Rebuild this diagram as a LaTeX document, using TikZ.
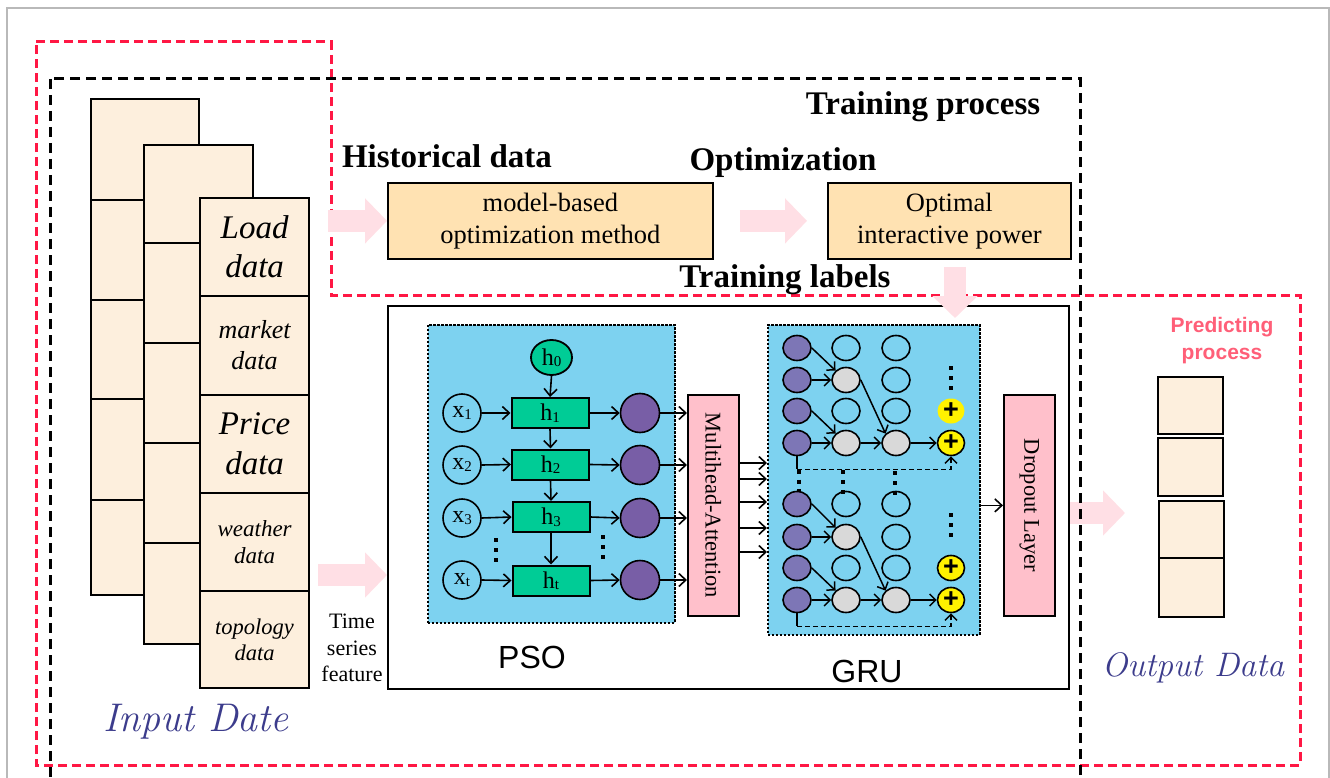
\documentclass[tikz,border=0pt]{standalone}
\usepackage{fontspec}
\usepackage{graphicx}
\newfontfamily\tms{Liberation Serif}
\newfontfamily\arl{Liberation Sans}
\usetikzlibrary{arrows.meta,shapes.geometric}
\newcommand\fsz[2]{\fontsize{#1}{#2}\selectfont}
\newcommand\hsub[2]{{\tms\fsz{24}{24}#1}{\tms\fsz{15}{15}\raisebox{-1.5pt}{#2}}}
\definecolor{peach}{RGB}{253,239,221}
\definecolor{orangebox}{RGB}{255,226,178}
\definecolor{pinkarrow}{RGB}{255,223,229}
\definecolor{skyblue}{RGB}{125,210,240}
\definecolor{greenc}{RGB}{0,204,150}
\definecolor{purpleA}{RGB}{120,94,166}
\definecolor{purpleB}{RGB}{125,118,182}
\definecolor{grayc}{RGB}{217,217,217}
\definecolor{pinkbox}{RGB}{255,192,203}
\definecolor{reddash}{RGB}{255,23,68}
\definecolor{navytext}{RGB}{60,60,140}
\definecolor{predpink}{RGB}{255,95,120}
\begin{document}
\begin{tikzpicture}[x=1pt,y=-1pt,
  cell/.style={draw, fill=peach, line width=2.2pt, anchor=north west, inner sep=0pt, align=center},
  obox/.style={draw, fill=orangebox, line width=1.8pt, anchor=north west, inner sep=0pt, align=center, font={\tms\fsz{26.5}{32}}},
  fat/.style={line width=22pt, draw=pinkarrow, -{Triangle[length=22pt,width=44pt]}},
  bluebox/.style={draw, fill=skyblue, line width=1.5pt, dash pattern=on 2.5pt off 1.5pt, anchor=north west, inner sep=0pt},
  pinkrect/.style={draw, fill=pinkbox, line width=1.8pt, anchor=north west, inner sep=0pt, minimum width=51pt, minimum height=221pt, font={\tms\fsz{22.5}{22.5}}},
  arr/.style={line width=1.6pt, -{Straight Barb[length=7pt,width=13pt,line width=1.6pt]}},
  arrg/.style={line width=1.5pt, -{Straight Barb[length=6pt,width=12pt,line width=1.5pt]}},
  xcirc/.style={circle, draw, line width=1.6pt, minimum size=38pt, inner sep=0pt},
  pcirc/.style={circle, draw, fill=purpleA, line width=1.6pt, minimum size=39pt, inner sep=0pt},
  hbox/.style={draw, fill=greenc, line width=2pt, minimum width=77pt, minimum height=30pt, inner sep=0pt},
  gnode/.style={ellipse, draw, line width=1.6pt, minimum width=28pt, minimum height=25pt, inner sep=0pt},
  ynode/.style={ellipse, draw, fill=yellow, line width=1.6pt, minimum width=27pt, minimum height=25pt, inner sep=0pt, font={\arl\bfseries\fsz{27}{27}}},
  sqdots/.style={line width=4pt, dash pattern=on 4pt off 6pt},
  bigtitle/.style={font={\tms\bfseries\fsz{33}{33}}, inner sep=0pt, anchor=base},
  ostack/.style={draw, fill=peach, line width=2.2pt, anchor=north west, inner sep=0pt, minimum width=65pt}
]
\useasboundingbox (0,0) rectangle (1330,778);
\fill[white] (0,0) rectangle (1330,778);
\draw[gray!55, line width=1.2pt] (7,8) rectangle (1329,800);

% red dashed region
\draw[reddash, line width=3pt, dash pattern=on 9pt off 5pt] (36,42) -- (331,42) -- (331,295) -- (1300,295) -- (1300,765) -- (36,765) -- cycle;

% input stacks
\node[cell, minimum width=108pt, minimum height=101pt] (c1a) at (90,98) {};
\node[cell, minimum width=108pt, minimum height=100pt] (c1b) at (90,199) {};
\node[cell, minimum width=108pt, minimum height=99pt] (c1c) at (90,299) {};
\node[cell, minimum width=108pt, minimum height=101pt] (c1d) at (90,398) {};
\node[cell, minimum width=108pt, minimum height=95pt] (c1e) at (90,499) {};
\node[cell, minimum width=109pt, minimum height=98pt] (c2a) at (143,144) {};
\node[cell, minimum width=109pt, minimum height=100pt] (c2b) at (143,242) {};
\node[cell, minimum width=109pt, minimum height=100pt] (c2c) at (143,342) {};
\node[cell, minimum width=109pt, minimum height=100pt] (c2d) at (143,442) {};
\node[cell, minimum width=109pt, minimum height=101pt] (c2e) at (143,542) {};
\node[cell, minimum width=109pt, minimum height=98pt, font={\tms\itshape\fsz{33}{39}}] (c3a) at (199,197) {Load\\data};
\node[cell, minimum width=109pt, minimum height=99pt, font={\tms\itshape\fsz{26}{31}}] (c3b) at (199,295) {market\\data};
\node[cell, minimum width=109pt, minimum height=98pt, font={\tms\itshape\fsz{33}{40}}] (c3c) at (199,394) {Price\\data};
\node[cell, minimum width=109pt, minimum height=98pt, font={\tms\itshape\fsz{23}{27}}] (c3d) at (199,492) {weather\\data};
\node[cell, minimum width=109pt, minimum height=97pt, font={\tms\itshape\fsz{22.5}{26}}] (c3e) at (199,590) {topology\\data};

% titles
\node[bigtitle] (ttrain) at (923,115) {Training process};
\node[bigtitle] (thist) at (447,168) {Historical data};
\node[bigtitle] (topt) at (783,171) {Optimization};
\node[bigtitle] (tlab) at (785,287) {Training labels};

% top boxes
\node[obox, minimum width=325pt, minimum height=76pt] (mb) at (387,182) {model-based\\optimization method};
\node[obox, minimum width=243pt, minimum height=76pt] (ob) at (827,182) {Optimal\\interactive power};

% main box
\node[draw, line width=2pt, minimum width=681pt, minimum height=383pt, anchor=north west, inner sep=0pt] (mainbox) at (387,305) {};

% fat arrows
\draw[fat, shorten <=18pt] (c3a.east |- mb.west) -- (mb.west);
\draw[fat, shorten <=26pt, shorten >=20pt] (mb.east) -- (ob.west);
\draw[fat, shorten <=7pt, shorten >=-13pt] (ob.south -| 955,0) -- (mainbox.north -| 955,0);
\coordinate (tsStart) at (318,575);
\draw[fat] (tsStart) -- (mainbox.west |- tsStart);

\node[font={\tms\fsz{22}{26.5}}, align=center, inner sep=0pt] (tsf) at (352,648) {Time\\series\\feature};

% PSO block
\node[bluebox, minimum width=247pt, minimum height=298pt] (pso) at (427,324) {};
\node[ellipse, draw, fill=greenc, line width=1.8pt, minimum width=41pt, minimum height=35pt, inner sep=0pt] (h0) at (551.5,357.5) {\hsub{h}{0}};
\node[hbox] (h1) at (550,413) {\hsub{h}{1}};
\node[hbox] (h2) at (550.5,464.5) {\hsub{h}{2}};
\node[hbox] (h3) at (551,517) {\hsub{h}{3}};
\node[hbox] (h4) at (551,580.5) {\hsub{h}{t}};
\node[xcirc] (x1) at (462,413) {\hsub{x}{1}};
\node[xcirc] (x2) at (462,465) {\hsub{x}{2}};
\node[xcirc] (x3) at (462,518) {\hsub{x}{3}};
\node[xcirc] (x4) at (462,580) {\hsub{x}{t}};
\node[pcirc] (p1) at (640,413) {};
\node[pcirc] (p2) at (640,465) {};
\node[pcirc] (p3) at (640,518) {};
\node[pcirc] (p4) at (640,580) {};
\node[pinkrect] (mh) at (687,394) {\rotatebox{-90}{Multihead-Attention}};
\node[pinkrect] (dp) at (1003,394) {\rotatebox{-90}{Dropout Layer}};

\draw[arr] (h0.south) -- (h1.north);
\draw[arr] (h1.south) -- (h2.north);
\draw[arr] (h2.south) -- (h3.north);
\draw[arr] (h3.south) -- (h4.north);
\foreach \i in {1,2,3,4}{
  \draw[arr] (x\i.east) -- (h\i.west);
  \draw[arr] (h\i.east) -- (p\i.west);
  \draw[arr] (p\i.east) -- (p\i.east -| mh.west);
}
\draw[sqdots] (496,538) -- (496,566);
\draw[sqdots] (603,535) -- (603,563);

% GRU block
\node[bluebox, minimum width=212pt, minimum height=310pt] (gru) at (767,324) {};
\foreach \yy in {463,479,502,528,552}{
  \draw[arr] (mh.east |- 0,\yy) -- (gru.west |- 0,\yy);
}
\foreach \r/\yy/\fb/\fc in {1/348/none/none,2/380/grayc/none,3/411/none/none,4/443/grayc/grayc,5/504/none/none,6/537/grayc/none,7/568/none/none,8/600/grayc/grayc}{
  \node[gnode, fill=purpleB] (a\r) at (797,\yy) {};
  \node[gnode, fill=\fb] (b\r) at (846,\yy) {};
  \node[gnode, fill=\fc] (c\r) at (896,\yy) {};
}
\node[ynode, draw=none] (y3) at (951,411) {+};
\node[ynode] (y4) at (951,443) {+};
\node[ynode] (y7) at (951,568) {+};
\node[ynode] (y8) at (951,600) {+};

\foreach \s in {0,4}{
  \pgfmathtruncatemacro{\ra}{1+\s}
  \pgfmathtruncatemacro{\rb}{2+\s}
  \pgfmathtruncatemacro{\rc}{3+\s}
  \pgfmathtruncatemacro{\rd}{4+\s}
  \draw[arrg] (a\ra.east) -- (b\rb.north west);
  \draw[arrg] (a\rb.east) -- (b\rb.west);
  \draw[arrg] (b\rb.east) -- (c\rd.north west);
  \draw[arrg] (a\rc.east) -- (b\rd.north west);
  \draw[arrg] (a\rd.east) -- (b\rd.west);
  \draw[arrg] (b\rd.east) -- (c\rd.west);
  \draw[arrg] (c\rd.east) -- (y\rd.west);
  \draw[line width=1.5pt] (a\rd.south) -- ++(0,13) coordinate (fb\rd);
  \draw[arrg, dash pattern=on 5pt off 3pt] (fb\rd) -| (y\rd.south);
}
\draw[sqdots, dash pattern=on 4pt off 5.5pt] (799,470) -- (799,492);
\draw[sqdots, dash pattern=on 4pt off 6pt] (843,470) -- (843,494);
\draw[sqdots, dash pattern=on 4pt off 6pt] (895,471) -- (895,495);
\draw[sqdots, dash pattern=on 4pt off 6pt] (951,366) -- (951,390);
\draw[sqdots, dash pattern=on 4pt off 6pt] (951,513) -- (951,537);

\draw[arr] (gru.east |- dp.west) -- (dp.west);

% labels
\node[font={\arl\fsz{32}{32}}, anchor=base, inner sep=0pt] (pso-l) at (532,668) {PSO};
\node[font={\arl\fsz{32}{32}}, anchor=base, inner sep=0pt] (gru-l) at (867,682) {GRU};

% output
\node[ostack, minimum height=57pt] (o1) at (1157,376) {};
\node[ostack, minimum height=58pt] (o2) at (1157,437) {};
\node[ostack, minimum height=57pt] (o3) at (1158,500) {};
\node[ostack, minimum height=59pt] (o4) at (1158,557) {};
\draw[fat, shorten >=33pt] (mainbox.east |- 0,513) -- (o3.west |- 0,513);

\node[font={\arl\bfseries\fsz{21}{27}}, text=predpink, align=center, inner sep=0pt] (pred) at (1222,341) {Predicting\\process};
\node[font={\itshape\fsz{34}{34}}, text=navytext, anchor=base, inner sep=0pt] (outd) at (1193,676) {Output Data};
\node[font={\itshape\fsz{40}{40}}, text=navytext, anchor=base, inner sep=0pt] (ind) at (196,731) {Input Date};

% black dashed frame on top
\draw[black, line width=3pt, dash pattern=on 10pt off 6pt] (50,79) rectangle (1080,800);
\end{tikzpicture}
\end{document}
